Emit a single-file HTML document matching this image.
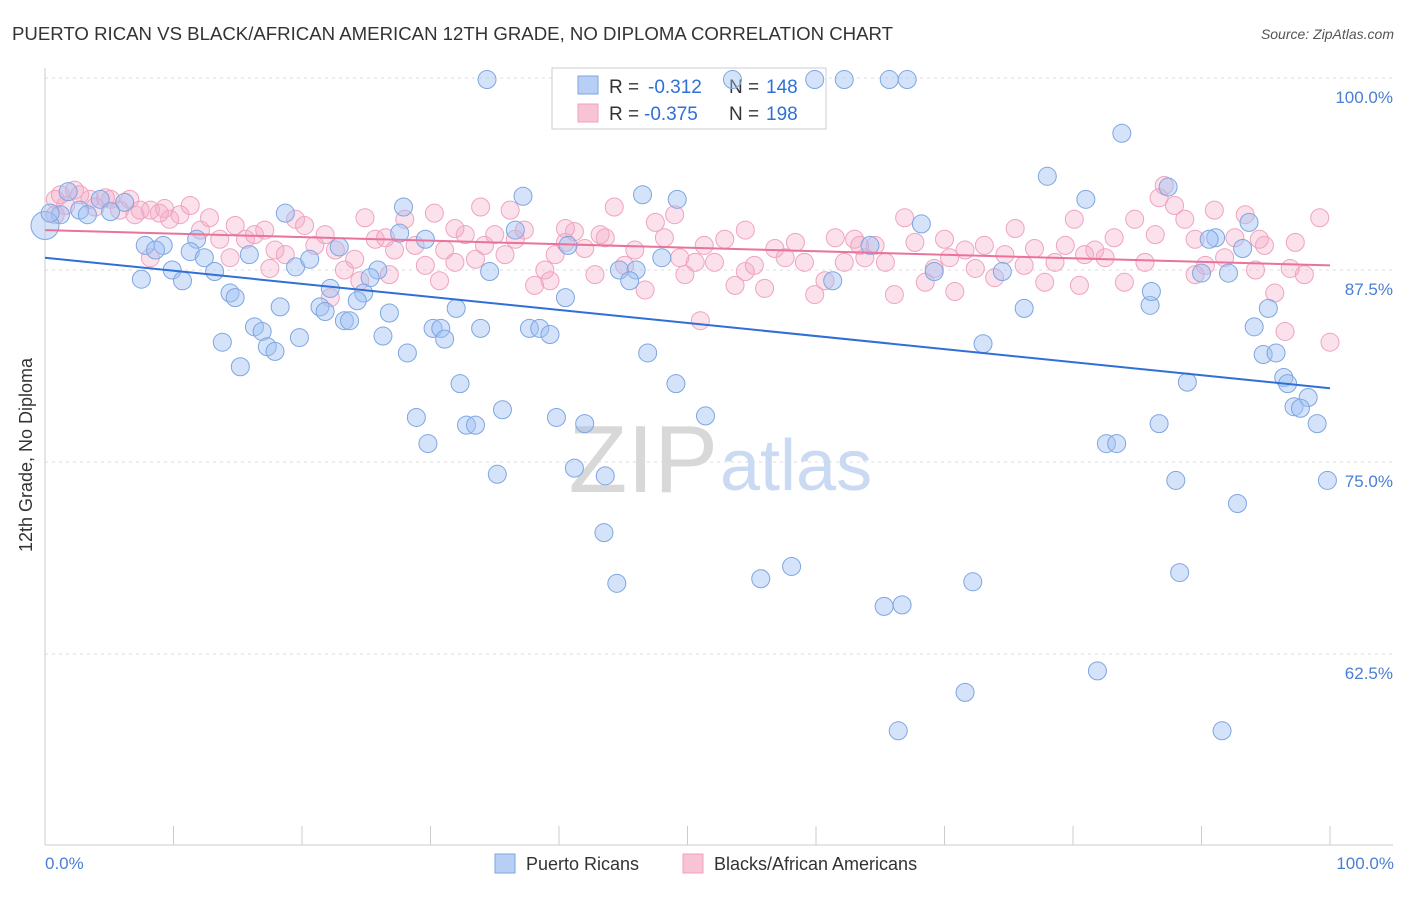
<!DOCTYPE html>
<html><head><meta charset="utf-8"><style>
body{margin:0;background:#fff;font-family:"Liberation Sans",sans-serif;}
svg text{font-family:"Liberation Sans",sans-serif;}
</style></head><body>
<svg id="chart" width="1406" height="892" xmlns="http://www.w3.org/2000/svg">
<text x="12" y="40" font-size="18" fill="#333" textLength="881" lengthAdjust="spacingAndGlyphs">PUERTO RICAN VS BLACK/AFRICAN AMERICAN 12TH GRADE, NO DIPLOMA CORRELATION CHART</text>
<text x="1394" y="39" font-size="14" fill="#555" font-style="italic" text-anchor="end">Source: ZipAtlas.com</text>
<g id="grid"></g>
<g id="axes"></g>
<text x="718" y="492" font-size="96" fill="#d8d8d8" text-anchor="end" font-family="Liberation Serif">ZIP</text>
<text x="720" y="490" font-size="72" fill="#c9daf2">atlas</text>
<g>
<rect x="552" y="68" width="274" height="61" fill="#fff" stroke="#ccc"/>
<rect x="578" y="76" width="20" height="18" fill="#b7cff5" stroke="#7ea6e0"/>
<rect x="578" y="104" width="20" height="18" fill="#f8c3d4" stroke="#f0a0bd"/>
<text x="609" y="93" font-size="19" fill="#333">R =</text>
<text x="648" y="93" font-size="19" fill="#2f6fd6">-0.312</text>
<text x="729" y="93" font-size="19" fill="#333">N =</text>
<text x="766" y="93" font-size="19" fill="#2f6fd6">148</text>
<text x="609" y="120" font-size="19" fill="#333">R =</text>
<text x="644" y="120" font-size="19" fill="#2f6fd6">-0.375</text>
<text x="729" y="120" font-size="19" fill="#333">N =</text>
<text x="766" y="120" font-size="19" fill="#2f6fd6">198</text>
</g>
<g id="pinkPts"></g>
<g id="bluePts"></g>
<g id="lines"></g>
<text x="32" y="455" font-size="18" fill="#333" text-anchor="middle" transform="rotate(-90 32 455)">12th Grade, No Diploma</text>
<text x="45" y="869" font-size="17" fill="#4a7fd4">0.0%</text>
<text x="1394" y="869" font-size="17" fill="#4a7fd4" text-anchor="end">100.0%</text>
<g>
<rect x="495" y="854" width="20" height="19" fill="#b7cff5" stroke="#7ea6e0"/>
<text x="526" y="870" font-size="18" fill="#333">Puerto Ricans</text>
<rect x="683" y="854" width="20" height="19" fill="#f8c3d4" stroke="#f0a0bd"/>
<text x="714" y="870" font-size="18" fill="#333">Blacks/African Americans</text>
</g>
</svg>
<script>
const yTicks=[100,87.5,75,62.5];
const yTickLabels=["100.0%","87.5%","75.0%","62.5%"];
const xTicks=[0,10,20,30,40,50,60,70,80,90,100];
const blueX=[34.4,53.5,59.9,62.2,65.7,67.1,83.8,78.0,81.0,87.4,37.2,46.5,49.2,27.9,18.7,68.2,36.6,93.7,91.1,90.6,93.2,1.8,2.7,4.3,6.2,3.3,5.1,1.2,7.8,9.2,8.6,11.8,11.3,12.4,9.9,10.7,7.5,13.2,14.4,14.8,15.9,19.5,20.6,22.9,25.9,25.3,22.2,24.8,24.3,18.3,21.4,21.8,26.8,16.3,16.9,19.8,23.3,23.7,17.3,17.9,13.8,15.2,26.3,28.2,30.2,30.8,31.1,32.0,33.9,34.6,37.7,38.5,39.3,40.5,44.7,46.0,48.0,46.9,32.3,28.9,29.8,32.8,33.5,35.6,39.8,42.0,41.2,35.2,43.6,43.5,44.5,49.1,51.4,55.7,58.1,65.3,66.7,72.2,66.4,71.6,81.9,91.6,88.3,92.8,88.0,82.6,83.4,86.7,88.9,99.8,98.3,99.0,97.2,97.7,96.4,96.7,94.8,95.8,94.1,95.2,90.0,92.1,86.0,86.1,76.2,73.0,74.5,69.2,61.3,64.2,29.6,27.6,0,0.4,40.7,45.5];
const blueY=[99.9,99.9,99.9,99.9,99.9,99.9,96.4,93.6,92.1,92.9,92.3,92.4,92.1,91.6,91.2,90.5,90.1,90.6,89.6,89.5,88.9,92.6,91.4,92.1,91.9,91.1,91.3,91.1,89.1,89.1,88.8,89.5,88.7,88.3,87.5,86.8,86.9,87.4,86.0,85.7,88.5,87.7,88.2,89.0,87.5,87.0,86.3,86.0,85.5,85.1,85.1,84.8,84.7,83.8,83.5,83.1,84.2,84.2,82.5,82.2,82.8,81.2,83.2,82.1,83.7,83.7,83.0,85.0,83.7,87.4,83.7,83.7,83.3,85.7,87.5,87.5,88.3,82.1,80.1,77.9,76.2,77.4,77.4,78.4,77.9,77.5,74.6,74.2,74.1,70.4,67.1,80.1,78.0,67.4,68.2,65.6,65.7,67.2,57.5,60.0,61.4,57.5,67.8,72.3,73.8,76.2,76.2,77.5,80.2,73.8,79.2,77.5,78.6,78.5,80.5,80.1,82.0,82.1,83.8,85.0,87.3,87.3,85.2,86.1,85.0,82.7,87.4,87.4,86.8,89.1,89.5,89.9,90.4,91.2,89.1,86.8];
const pinkX=[0.8,1.6,2.3,3.5,4.7,5.8,7.0,8.2,9.3,10.5,11.3,12.1,12.8,13.6,14.8,15.6,16.3,17.1,17.9,18.7,19.5,20.2,21.0,21.8,22.6,23.3,24.1,24.9,25.7,26.5,27.2,28.0,28.8,29.6,30.3,31.1,31.9,32.7,33.5,34.2,35.0,35.8,36.6,37.3,38.1,38.9,39.7,40.5,41.2,42.0,42.8,43.6,44.3,45.1,45.9,46.7,47.5,48.2,49.0,49.8,50.6,51.3,52.1,52.9,53.7,54.5,55.2,56.0,56.8,57.6,58.4,59.1,59.9,60.7,61.5,62.2,63.0,63.8,64.6,65.4,66.1,66.9,67.7,68.5,69.2,70.0,70.8,71.6,72.4,73.1,73.9,74.7,75.5,76.2,77.0,77.8,78.6,79.4,80.1,80.9,81.7,82.5,83.2,84.0,84.8,85.6,86.4,86.7,87.1,87.9,88.7,89.5,90.3,91.0,91.8,92.6,93.4,94.2,94.9,95.7,96.5,97.3,98.0,99.2,100,51.0,22.2,24.5,30.7,26.8,8.2,9.7,14.4,17.5,36.2,31.9,40.5,43.2,49.4,54.5,63.4,70.4,80.5,89.5,94.5,96.9,0.8,3.9,6.6,7.4,1.2,2.7,5.1,8.9,33.9,39.3];
const pinkY=[92.1,91.7,92.7,92.1,92.2,91.4,91.1,91.4,91.5,91.1,91.7,90.1,90.9,89.5,90.4,89.5,89.8,90.1,88.8,88.5,90.8,90.4,89.1,89.8,88.8,87.5,88.2,90.9,89.5,89.6,88.8,90.8,89.1,87.8,91.2,88.8,88.0,89.8,88.2,89.1,89.8,88.5,89.5,90.1,86.5,87.5,88.5,89.3,90.0,88.9,87.2,89.6,91.6,87.8,88.8,86.2,90.6,89.6,91.1,87.2,88.0,89.1,88.0,89.5,86.5,87.4,87.8,86.3,88.9,88.3,89.3,88.0,85.9,86.8,89.6,88.0,89.5,88.3,89.1,88.0,85.9,90.9,89.3,86.7,87.6,89.5,86.1,88.8,87.6,89.1,87.0,88.5,90.2,87.8,88.9,86.7,88.0,89.1,90.8,88.5,88.8,88.3,89.6,86.7,90.8,88.0,89.8,92.2,93.0,91.7,90.8,89.5,87.8,91.4,88.3,89.6,91.1,87.5,89.1,86.0,83.5,89.3,87.2,90.9,82.8,84.2,85.7,86.8,86.8,87.2,88.3,90.8,88.3,87.6,91.4,90.2,90.2,89.8,88.3,90.1,89.1,88.3,86.5,87.2,89.5,87.6,91.1,91.6,92.1,91.4,92.4,92.4,92.1,91.2,91.6,86.8];
const blueTrend=[88.3,79.8];
const pinkTrend=[90.1,87.8];

const NS="http://www.w3.org/2000/svg";
const X0=45,X1=1330,YTOP=78,PX_PER=15.36;
function xs(v){return X0+(X1-X0)*v/100;}
function ys(v){return YTOP+(100-v)*PX_PER;}
function mk(tag,attrs,parent){const e=document.createElementNS(NS,tag);for(const k in attrs)e.setAttribute(k,attrs[k]);parent.appendChild(e);return e;}
const grid=document.getElementById('grid'),axes=document.getElementById('axes');
yTicks.forEach((t,i)=>{
  const l=mk('line',{x1:X0,x2:1393,y1:ys(t),y2:ys(t),stroke:'#ddd','stroke-dasharray':'3,4'},grid);
  
  
  const tx=mk('text',{x:1393,y:ys(t)+25,'font-size':17,fill:'#4a7fd4','text-anchor':'end'},grid);
  tx.textContent=yTickLabels[i];
  
  
});
const yl=mk('line',{x1:X0,x2:X0,y1:68,y2:845,stroke:'#ccc'},axes);


const xl=mk('line',{x1:X0,x2:1393,y1:845,y2:845,stroke:'#ccc'},axes);


xTicks.forEach(t=>{
  const tk=mk('line',{x1:xs(t),x2:xs(t),y1:826,y2:845,stroke:'#ccc'},axes);
  
  
});
const pg=document.getElementById('pinkPts');
pinkX.forEach((v,i)=>{
  const c=mk('circle',{cx:xs(v),cy:ys(pinkY[i]),r:9,fill:'rgba(244,170,198,0.35)',stroke:'#f0a3bf','stroke-width':1},pg);
  
  
});
const bg=document.getElementById('bluePts');
blueX.forEach((v,i)=>{
  const c=mk('circle',{cx:xs(v),cy:ys(blueY[i]),r:(v===0?14:9),fill:'rgba(160,192,244,0.45)',stroke:'#7ea6e0','stroke-width':1},bg);
  
  
});
const lg=document.getElementById('lines');
const bl=mk('line',{x1:xs(0),y1:ys(blueTrend[0]),x2:xs(100),y2:ys(blueTrend[1]),stroke:'#2f6fd6','stroke-width':2},lg);


const pl=mk('line',{x1:xs(0),y1:ys(pinkTrend[0]),x2:xs(100),y2:ys(pinkTrend[1]),stroke:'#e8739b','stroke-width':2},lg);


</script>
</body></html>
